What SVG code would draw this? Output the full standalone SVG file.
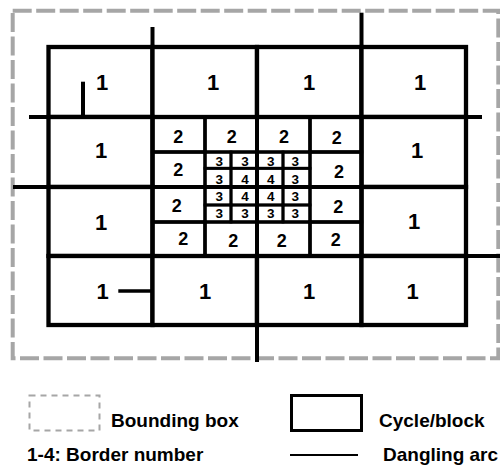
<svg xmlns="http://www.w3.org/2000/svg" width="500" height="466" viewBox="0 0 500 466">
<style>
text{font-family:"Liberation Sans",Arial,sans-serif;font-weight:bold;fill:#000;text-anchor:middle}
.b1{fill:#fff;stroke:#000;stroke-width:4.3}
.b2{fill:none;stroke:#000;stroke-width:3.3}
.b3{fill:none;stroke:#000;stroke-width:2.8}
.t1{font-size:22px}
.t2{font-size:18px}
.t3{font-size:13.5px}
.arc{stroke:#000;stroke-width:4;fill:none}
.bbox{fill:none;stroke:#a6a6a6;stroke-width:4;stroke-dasharray:19 4.5}
.leg{font-size:19px;text-anchor:start}
</style>
<rect width="500" height="466" fill="#fff"/>
<rect id="bounding-box" class="bbox" x="12.7" y="10.7" width="485.6" height="347.6"/>

<!-- level 1 blocks -->
<g id="b1-00"><rect class="b1" x="48.5" y="47" width="104" height="70"/><text class="t1" x="102" y="90">1</text></g>
<g id="b1-01"><rect class="b1" x="152.5" y="47" width="104.5" height="70"/><text class="t1" x="213" y="90">1</text></g>
<g id="b1-02"><rect class="b1" x="257" y="47" width="104.5" height="70"/><text class="t1" x="309" y="90">1</text></g>
<g id="b1-03"><rect class="b1" x="361.5" y="47" width="104.5" height="70"/><text class="t1" x="420" y="90">1</text></g>
<g id="b1-10"><rect class="b1" x="48.5" y="117" width="104" height="70"/><text class="t1" x="101" y="158">1</text></g>
<g id="b1-13"><rect class="b1" x="361.5" y="117" width="104.5" height="70"/><text class="t1" x="417" y="158">1</text></g>
<g id="b1-20"><rect class="b1" x="48.5" y="187" width="104" height="69"/><text class="t1" x="101" y="230">1</text></g>
<g id="b1-23"><rect class="b1" x="361.5" y="187" width="104.5" height="69"/><text class="t1" x="414" y="229">1</text></g>
<g id="b1-30"><rect class="b1" x="48.5" y="256" width="104" height="69"/><text class="t1" x="102.5" y="299">1</text></g>
<g id="b1-31"><rect class="b1" x="152.5" y="256" width="104.5" height="69"/><text class="t1" x="205" y="299">1</text></g>
<g id="b1-32"><rect class="b1" x="257" y="256" width="104.5" height="69"/><text class="t1" x="309" y="299">1</text></g>
<g id="b1-33"><rect class="b1" x="361.5" y="256" width="104.5" height="69"/><text class="t1" x="412.5" y="299">1</text></g>

<!-- level 2 blocks -->
<g id="b2-a1"><rect class="b2" x="152.5" y="117" width="52.5" height="35"/><text class="t2" x="178.3" y="142.5">2</text></g>
<g id="b2-a2"><rect class="b2" x="205" y="117" width="52" height="35"/><text class="t2" x="231.7" y="142.5">2</text></g>
<g id="b2-a3"><rect class="b2" x="257" y="117" width="53" height="35"/><text class="t2" x="284" y="142.5">2</text></g>
<g id="b2-a4"><rect class="b2" x="310" y="117" width="51.5" height="35"/><text class="t2" x="336.7" y="143.5">2</text></g>
<g id="b2-b1"><rect class="b2" x="152.5" y="152" width="52.5" height="35"/><text class="t2" x="178.3" y="176">2</text></g>
<g id="b2-b4"><rect class="b2" x="310" y="152" width="51.5" height="35"/><text class="t2" x="339" y="178">2</text></g>
<g id="b2-c1"><rect class="b2" x="152.5" y="187" width="52.5" height="35"/><text class="t2" x="176.7" y="212">2</text></g>
<g id="b2-c4"><rect class="b2" x="310" y="187" width="51.5" height="35"/><text class="t2" x="338.3" y="213">2</text></g>
<g id="b2-d1"><rect class="b2" x="152.5" y="222" width="52.5" height="34"/><text class="t2" x="183.3" y="245">2</text></g>
<g id="b2-d2"><rect class="b2" x="205" y="222" width="52" height="34"/><text class="t2" x="233.3" y="246.5">2</text></g>
<g id="b2-d3"><rect class="b2" x="257" y="222" width="53" height="34"/><text class="t2" x="281.7" y="246.5">2</text></g>
<g id="b2-d4"><rect class="b2" x="310" y="222" width="51.5" height="34"/><text class="t2" x="335.7" y="246">2</text></g>

<!-- level 3/4 blocks -->
<g id="b3-11"><rect class="b3" x="205" y="152" width="26" height="16.3"/><text class="t3" x="219.3" y="166">3</text></g>
<g id="b3-12"><rect class="b3" x="231" y="152" width="26" height="16.3"/><text class="t3" x="245" y="166">3</text></g>
<g id="b3-13"><rect class="b3" x="257" y="152" width="26" height="16.3"/><text class="t3" x="270.7" y="166">3</text></g>
<g id="b3-14"><rect class="b3" x="283" y="152" width="27" height="16.3"/><text class="t3" x="295.3" y="166">3</text></g>
<g id="b3-21"><rect class="b3" x="205" y="168.3" width="26" height="18.7"/><text class="t3" x="219.3" y="184">3</text></g>
<g id="b4-22"><rect class="b3" x="231" y="168.3" width="26" height="18.7"/><text class="t3" x="245" y="184">4</text></g>
<g id="b4-23"><rect class="b3" x="257" y="168.3" width="26" height="18.7"/><text class="t3" x="270.7" y="184">4</text></g>
<g id="b3-24"><rect class="b3" x="283" y="168.3" width="27" height="18.7"/><text class="t3" x="295.3" y="184">3</text></g>
<g id="b3-31"><rect class="b3" x="205" y="187" width="26" height="18"/><text class="t3" x="219.3" y="200.5">3</text></g>
<g id="b4-32"><rect class="b3" x="231" y="187" width="26" height="18"/><text class="t3" x="245" y="200.5">4</text></g>
<g id="b4-33"><rect class="b3" x="257" y="187" width="26" height="18"/><text class="t3" x="270.7" y="200.5">4</text></g>
<g id="b3-34"><rect class="b3" x="283" y="187" width="27" height="18"/><text class="t3" x="295.3" y="200.5">3</text></g>
<g id="b3-41"><rect class="b3" x="205" y="205" width="26" height="17"/><text class="t3" x="219.3" y="217.5">3</text></g>
<g id="b3-42"><rect class="b3" x="231" y="205" width="26" height="17"/><text class="t3" x="245" y="217.5">3</text></g>
<g id="b3-43"><rect class="b3" x="257" y="205" width="26" height="17"/><text class="t3" x="270.7" y="217.5">3</text></g>
<g id="b3-44"><rect class="b3" x="283" y="205" width="27" height="17"/><text class="t3" x="295.3" y="217.5">3</text></g>

<!-- main lines re-emphasised through the centre -->
<g id="main-lines" class="arc">
<line x1="152.5" y1="187" x2="361.5" y2="187"/>
<line x1="257" y1="117" x2="257" y2="256"/>
<rect x="152.5" y="117" width="209" height="139" fill="none"/>
</g>

<!-- dangling arcs -->
<g id="connectors" class="arc">
<line x1="152.5" y1="27" x2="152.5" y2="47"/>
<line x1="361.5" y1="12.7" x2="361.5" y2="47"/>
<line x1="29" y1="117" x2="48.5" y2="117"/>
<line x1="466" y1="117" x2="482" y2="117"/>
<line x1="13" y1="187" x2="48.5" y2="187"/>
<line x1="466" y1="256" x2="500" y2="256"/>
<line x1="257" y1="325" x2="257" y2="362"/>
<line x1="83" y1="81.7" x2="83" y2="117"/>
<line x1="118.3" y1="291" x2="152.5" y2="291" stroke-width="3.4"/>
</g>

<!-- legend -->
<g id="legend">
<rect x="29.5" y="395.5" width="70" height="35" fill="none" stroke="#a6a6a6" stroke-width="2" stroke-dasharray="6 5"/>
<text class="leg" x="111" y="427">Bounding box</text>
<rect x="291.5" y="395.5" width="70" height="35" fill="none" stroke="#000" stroke-width="3"/>
<text class="leg" x="379" y="427">Cycle/block</text>
<text class="leg" x="27" y="461">1-4: Border number</text>
<line x1="290" y1="455" x2="358" y2="455" stroke="#000" stroke-width="2"/>
<text class="leg" x="383" y="461">Dangling arc</text>
</g>
</svg>
